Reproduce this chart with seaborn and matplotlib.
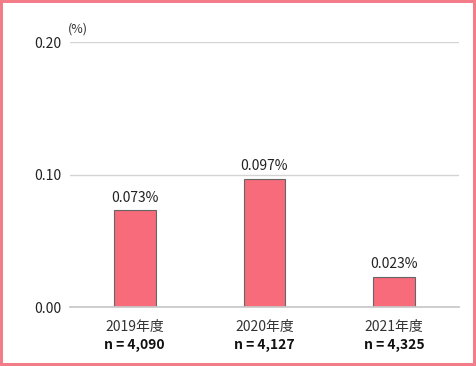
import matplotlib.pyplot as plt
import seaborn as sns
import pandas as pd

years = ["2019年度", "2020年度", "2021年度"]
rates = [0.073, 0.097, 0.023]
counts = ["4,090", "4,127", "4,325"]

sns.set_theme(style="white")
plt.rcParams['font.family'] = ['Noto Sans CJK JP', 'DejaVu Sans']

df = pd.DataFrame({"year": years, "rate": rates})

fig = plt.figure(figsize=(4.76, 3.66), dpi=100)
fig.patch.set_edgecolor("#f27d89")
fig.patch.set_linewidth(3)
ax = fig.add_axes([0.147, 0.161, 0.817, 0.724])

sns.barplot(data=df, x="year", y="rate", color="#f76b7a", width=0.32,
            edgecolor="#666666", linewidth=0.8, saturation=1, ax=ax)

ax.set_ylim(0, 0.20)
ax.set_yticks([0, 0.10, 0.20])
ax.set_yticklabels(["0.00", "0.10", "0.20"], fontsize=10)
ax.yaxis.grid(True, color="#d4d4d4", linewidth=1)
ax.set_axisbelow(True)
for s in ["top", "right", "left"]:
    ax.spines[s].set_visible(False)
ax.spines["bottom"].set_color("#c8c8c8")
ax.tick_params(axis="y", length=0, pad=6, colors="#222222")
ax.tick_params(axis="x", length=0, pad=9, labelsize=10, colors="#333333")
ax.set_xlabel("")
ax.set_ylabel("")

for i, v in enumerate(rates):
    ax.text(i, v + 0.004, f"{v:.3f}%", ha="center", va="bottom", fontsize=10, color="#222222")
    ax.text(i, -0.0287, f"n = {counts[i]}", ha="center", va="center", fontsize=10,
            fontweight="bold", color="#111111")

fig.text(0.143, 0.91, "(%)", fontsize=9, color="#333333")

fig.savefig("out.png", dpi=100, edgecolor=fig.get_edgecolor())
